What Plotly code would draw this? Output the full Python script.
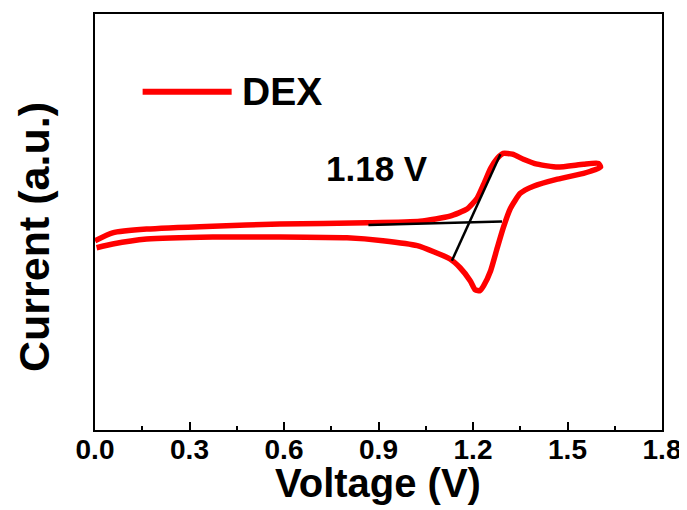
import plotly.graph_objects as go

# Cyclic voltammogram of DEX (arbitrary current units)
forward_v = [0.0, 0.056, 0.164, 0.374, 0.587, 0.864, 1.032, 1.127, 1.181, 1.213, 1.234, 1.256, 1.277, 1.296,
             1.325, 1.360, 1.404, 1.468, 1.551, 1.598]
forward_i = [45.5, 47.4, 48.3, 49.0, 49.5, 49.8, 50.2, 51.4, 53.1, 55.7, 59.1, 62.9, 65.3, 66.5,
             66.3, 65.1, 63.9, 63.2, 63.9, 64.1]
reverse_v = [1.605, 1.573, 1.551, 1.468, 1.392, 1.350, 1.319, 1.296, 1.277, 1.256, 1.234, 1.222, 1.207,
             1.191, 1.159, 1.127, 1.023, 0.914, 0.800, 0.587, 0.374, 0.164, 0.056, 0.005]
reverse_i = [63.2, 62.2, 61.7, 60.3, 58.6, 56.9, 53.3, 48.6, 43.8, 38.3, 34.7, 33.5, 33.7,
             35.9, 39.0, 41.1, 44.3, 45.5, 46.2, 46.4, 46.4, 45.9, 44.7, 43.8]

baseline_v = [0.868, 1.292]
baseline_i = [49.3, 50.1]
tangent_v = [1.133, 1.287]
tangent_i = [40.7, 66.3]

onset_label = "1.18 V"
onset_pos = (0.895, 62.8)
series_name = "DEX"
x_ticks = [0.0, 0.3, 0.6, 0.9, 1.2, 1.5, 1.8]

FONT = "Liberation Sans, Arial, sans-serif"

fig = go.Figure()
fig.add_trace(go.Scatter(x=forward_v + reverse_v, y=forward_i + reverse_i, mode="lines",
                         line=dict(color="#FF0000", width=5.5, shape="spline", smoothing=0.5),
                         showlegend=False, name=series_name))
fig.add_trace(go.Scatter(x=baseline_v, y=baseline_i, mode="lines",
                         line=dict(color="black", width=2.5), showlegend=False))
fig.add_trace(go.Scatter(x=tangent_v, y=tangent_i, mode="lines",
                         line=dict(color="black", width=2.5), showlegend=False))

fig.add_annotation(x=onset_pos[0], y=onset_pos[1], text=onset_label, showarrow=False,
                   font=dict(family=FONT, size=35, color="black", weight="bold"))

# legend drawn manually
fig.add_shape(type="line", xref="paper", yref="paper", x0=0.084, x1=0.241, y0=0.813, y1=0.813,
              line=dict(color="#FF0000", width=6))
fig.add_annotation(xref="paper", yref="paper", x=0.256, y=0.813, text=series_name, showarrow=False,
                   xanchor="left", yanchor="middle",
                   font=dict(family=FONT, size=39, color="black", weight="bold"))

# axis titles
fig.add_annotation(xref="paper", yref="paper", x=0.499, y=0, yshift=-53, text="Voltage (V)",
                   showarrow=False, xanchor="center", yanchor="middle",
                   font=dict(family=FONT, size=40, color="black", weight="bold"))
fig.add_annotation(xref="paper", yref="paper", x=0, xshift=-61, y=0.464, text="Current (a.u.)",
                   showarrow=False, textangle=-90, xanchor="center", yanchor="middle",
                   font=dict(family=FONT, size=43, color="black", weight="bold"))

# page body adds an 8px margin, so the figure is sized to fit inside the window
fig.update_layout(
    width=679, height=502,
    margin=dict(l=87, r=25, t=4, b=80),
    plot_bgcolor="white", paper_bgcolor="white",
    xaxis=dict(range=[0, 1.8], tickvals=x_ticks, ticktext=[f"{v:.1f}" for v in x_ticks],
               ticks="inside", ticklen=8, tickwidth=2, tickcolor="black",
               ticklabelstandoff=-7,
               showline=True, linewidth=2, linecolor="black", mirror=True,
               showgrid=False, zeroline=False,
               tickfont=dict(family=FONT, size=28, color="black", weight="bold"),
               minor=dict(dtick=0.15, tick0=0, ticks="inside", ticklen=4, tickwidth=2, tickcolor="black",
                          showgrid=False)),
    yaxis=dict(range=[0, 100], showticklabels=False, ticks="",
               showline=True, linewidth=2, linecolor="black", mirror=True,
               showgrid=False, zeroline=False),
)

fig.write_html("out.html")
